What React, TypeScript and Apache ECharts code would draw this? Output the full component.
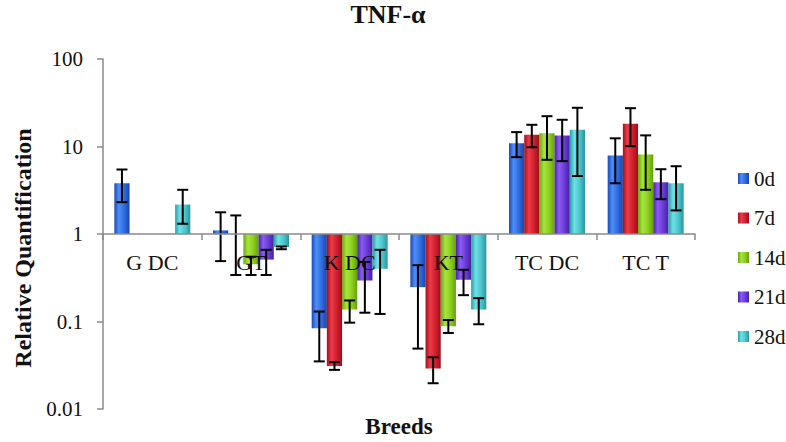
import React, { useEffect, useRef } from "react";
import * as echarts from "echarts";

const categories = ["G DC", "GT", "K DC", "KT", "TC DC", "TC T"];
const seriesNames = ["0d", "7d", "14d", "21d", "28d"];

const d0 = [3.8, 1.1, 0.084, 0.247, 10.9, 7.9];
const d7 = [null, 1.0, 0.031, 0.029, 13.6, 18.2];
const d14 = [null, 0.45, 0.137, 0.088, 14.2, 8.1];
const d21 = [null, 0.51, 0.294, 0.3, 13.4, 3.9];
const d28 = [2.17, 0.71, 0.4, 0.137, 15.5, 3.8];

const lo0 = [2.31, 0.49, 0.035, 0.049, 7.55, 3.8];
const hi0 = [5.46, 1.77, 0.13, 0.44, 14.6, 12.4];
const lo7 = [null, 0.34, 0.028, 0.0197, 9.8, 10.1];
const hi7 = [null, 1.63, 0.0343, 0.039, 17.7, 27.4];
const lo14 = [null, 0.34, 0.097, 0.074, 7.05, 3.2];
const hi14 = [null, 0.55, 0.174, 0.104, 22.2, 13.4];
const lo21 = [null, 0.34, 0.126, 0.2, 6.8, 2.5];
const hi21 = [null, 0.66, 0.48, 0.39, 20.2, 5.5];
const lo28 = [1.31, 0.67, 0.122, 0.093, 4.6, 1.86];
const hi28 = [3.2, 0.72, 0.66, 0.185, 27.7, 5.95];

const yTicks = [0.01, 0.1, 1, 10, 100];

const values = [d0, d7, d14, d21, d28];
const lows = [lo0, lo7, lo14, lo21, lo28];
const highs = [hi0, hi7, hi14, hi21, hi28];

const palettes = [
  ["#1a48b8", "#4d8ff5", "#2f6ce2", "#1a44a8"],
  ["#a3101d", "#ec3a47", "#d21f2d", "#9a0e1a"],
  ["#6aa80e", "#a8e43f", "#8bcf1c", "#64a00c"],
  ["#4a22a8", "#8a5cf0", "#6b3bd9", "#4420a0"],
  ["#2a9ea6", "#6fe0e6", "#4cc6cd", "#2796a0"],
];

const GAP = 0.23;
const FONT = '"Liberation Serif", "Times New Roman", serif';

export default function App() {
  const ref = useRef<HTMLDivElement>(null);
  useEffect(() => {
    if (!ref.current) return;
    const chart = echarts.init(ref.current, undefined, { renderer: "svg" });

    const barSeries = seriesNames.map((name, k) => ({
      name,
      type: "bar",
      data: values[k],
      barGap: "0%",
      barCategoryGap: GAP * 100 + "%",
      itemStyle: {
        color: new echarts.graphic.LinearGradient(0, 0, 1, 0, [
          { offset: 0, color: palettes[k][0] },
          { offset: 0.3, color: palettes[k][1] },
          { offset: 0.65, color: palettes[k][2] },
          { offset: 1, color: palettes[k][3] },
        ]),
      },
      z: 2,
    }));

    const errSeries = seriesNames.map((name, k) => ({
      name: name + " error",
      type: "custom",
      z: 5,
      data: categories
        .map((_, i) => [i, lows[k][i], highs[k][i]])
        .filter((r) => r[1] != null && r[2] != null),
      encode: { x: 0, y: [1, 2] },
      renderItem: (params: any, api: any) => {
        const cat = api.value(0);
        const lo = api.value(1);
        const hi = api.value(2);
        const band = api.size([1, 1], [0, 1])[0];
        const barW = (band * (1 - GAP)) / seriesNames.length;
        const cx = api.coord([cat, 1])[0] + (k - 2) * barW;
        const yLo = api.coord([cat, lo])[1];
        const yHi = api.coord([cat, hi])[1];
        const cap = 5.5;
        const st = { stroke: "#000", lineWidth: 2 };
        return {
          type: "group",
          children: [
            { type: "line", shape: { x1: cx, y1: yLo, x2: cx, y2: yHi }, style: st },
            { type: "line", shape: { x1: cx - cap, y1: yLo, x2: cx + cap, y2: yLo }, style: st },
            { type: "line", shape: { x1: cx - cap, y1: yHi, x2: cx + cap, y2: yHi }, style: st },
          ],
        };
      },
    }));

    chart.setOption({
      animation: false,
      backgroundColor: "#fff",
      textStyle: { fontFamily: FONT },
      grid: { left: 103, right: 91, top: 59, bottom: 33, containLabel: false, outerBoundsMode: "none" },
      legend: {
        data: seriesNames,
        orient: "vertical",
        left: 733,
        top: 163,
        itemWidth: 11,
        itemHeight: 11,
        itemGap: 18.5,
        icon: "rect",
        textStyle: { fontFamily: FONT, fontSize: 21, color: "#111" },
      },
      xAxis: {
        type: "category",
        data: categories,
        offset: -175,
        z: 10,
        axisLine: { onZero: false, lineStyle: { color: "#8a8a8a", width: 1.5 } },
        axisTick: { show: true, length: 6, lineStyle: { color: "#8a8a8a", width: 1.5 } },
        axisLabel: { fontFamily: FONT, fontSize: 22, color: "#111", margin: 17, interval: 0 },
      },
      yAxis: {
        type: "log",
        logBase: 10,
        min: yTicks[0],
        max: yTicks[yTicks.length - 1],
        axisLine: { show: true, lineStyle: { color: "#8a8a8a", width: 1.5 } },
        axisTick: { show: true, length: 6, lineStyle: { color: "#8a8a8a", width: 1.5 } },
        splitLine: { show: false },
        axisLabel: {
          fontFamily: FONT,
          fontSize: 21,
          color: "#111",
          margin: 20,
          formatter: (v: number) => {
            const m = yTicks.find((t) => Math.abs(Math.log10(t) - Math.log10(v)) < 1e-6);
            return m != null ? String(m) : "";
          },
        },
      },
      graphic: [
        {
          type: "text",
          x: 388,
          y: 14,
          style: { text: "TNF-α", font: `bold 26px ${FONT}`, fill: "#111", textAlign: "center", textVerticalAlign: "middle" },
        },
        {
          type: "text",
          x: 399,
          y: 426,
          style: { text: "Breeds", font: `bold 23px ${FONT}`, fill: "#111", textAlign: "center", textVerticalAlign: "middle" },
        },
        {
          type: "text",
          x: 23,
          y: 248,
          rotation: Math.PI / 2,
          style: {
            text: "Relative Quantification",
            font: `bold 24px ${FONT}`,
            fill: "#111",
            textAlign: "center",
            textVerticalAlign: "middle",
          },
        },
      ],
      series: [...barSeries, ...errSeries],
    });

    return () => chart.dispose();
  }, []);

  return <div ref={ref} style={{ width: 786, height: 442, position: "absolute", left: 0, top: 0 }} />;
}
